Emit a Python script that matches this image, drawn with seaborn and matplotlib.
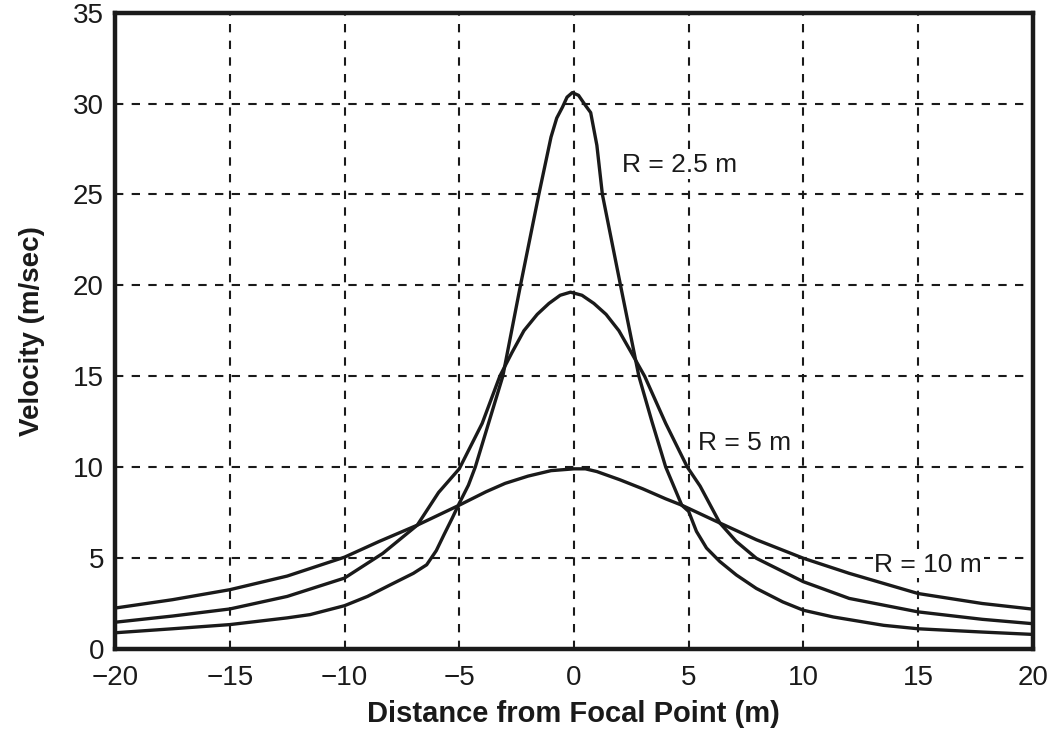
import matplotlib

matplotlib.use("Agg")
import matplotlib.pyplot as plt
import pandas as pd
import seaborn as sns

# Velocity profiles (distance in m, velocity in m/s)
x_r25 = [-20, -17.5, -15, -12.5, -11.5, -10, -9, -8, -7, -6.42, -6.0, -5.67,
         -5.3, -5, -4.6, -4.3, -3.7, -3.1, -2.33, -1.53, -1.0, -0.75, -0.5,
         -0.3, -0.07, 0.2, 0.5, 0.73, 1.0, 1.24, 2.03, 2.83, 3.4, 4.0, 4.7, 5.0,
         5.34, 5.78, 6.36, 7.08, 7.95, 9.1, 10, 11.3, 13.5, 15, 17.8, 20]
v_r25 = [0.88, 1.1, 1.33, 1.7, 1.88, 2.37, 2.88, 3.52, 4.15, 4.62, 5.4, 6.26,
         7.2, 8.0, 9.0, 10.0, 12.5, 15.0, 20.0, 25.0, 28.15, 29.2, 29.8,
         30.35, 30.6, 30.45, 29.9, 29.5, 27.7, 25.0, 20.0, 15.0, 12.5, 10.0,
         7.9, 7.56, 6.46, 5.54, 4.8, 4.06, 3.32, 2.58, 2.12, 1.75, 1.29, 1.1,
         0.92, 0.79]

x_r5 = [-20, -17.5, -15, -12.5, -10, -8.33, -6.83, -5.9, -5, -4, -3.23, -2.7,
        -2.18, -1.6, -1.09, -0.6, -0.15, 0.35, 0.87, 1.4, 1.96, 2.5, 3.08, 4,
        4.94, 5.5, 6.36, 7.08, 7.95, 10, 12, 15, 17.8, 20]
v_r5 = [1.46, 1.8, 2.19, 2.88, 3.89, 5.25, 6.8, 8.6, 9.9, 12.4, 15.0, 16.3,
        17.5, 18.4, 19.0, 19.45, 19.62, 19.45, 19.0, 18.4, 17.5, 16.3, 15.0,
        12.4, 10.0, 8.95, 6.92, 5.9, 4.98, 3.69, 2.77, 2.03, 1.62, 1.38]

x_r10 = [-20, -17.5, -15, -12.5, -10, -8.5, -6.83, -5, -3.83, -3, -2, -1, 0,
         0.5, 1, 2, 3, 4, 4.7, 6.36, 7.95, 10, 12, 15, 17.8, 20]
v_r10 = [2.24, 2.7, 3.25, 4.0, 5.04, 5.9, 6.8, 7.9, 8.64, 9.1, 9.5, 9.8, 9.9,
         9.9, 9.75, 9.3, 8.8, 8.25, 7.9, 6.92, 6.0, 4.98, 4.15, 3.04, 2.49,
         2.18]

curve_labels = ["R = 2.5 m", "R = 5 m", "R = 10 m"]
label_x = [2.1, 5.4, 13.1]
label_y = [26.6, 11.3, 4.6]

x_ticks = [-20, -15, -10, -5, 0, 5, 10, 15, 20]
x_tick_text = ["\u221220", "\u221215", "\u221210", "\u22125", "0", "5", "10",
               "15", "20"]
y_ticks = [0, 5, 10, 15, 20, 25, 30, 35]

INK = "#1a1a1a"

sns.set_theme(style="white")
plt.rcParams["font.family"] = ["Liberation Sans", "DejaVu Sans"]

fig = plt.figure(figsize=(10.56, 7.44), dpi=100)
ax = fig.add_axes([0.109, 0.128, 0.869, 0.855])

for xs, vs in [(x_r25, v_r25), (x_r5, v_r5), (x_r10, v_r10)]:
    df = pd.DataFrame({"x": xs, "v": vs})
    sns.lineplot(data=df, x="x", y="v", color=INK, linewidth=2.4, sort=False,
                 ax=ax, zorder=3, solid_joinstyle="round",
                 solid_capstyle="round")

for text, tx, ty in zip(curve_labels, label_x, label_y):
    ax.text(tx, ty, text, fontsize=19, color=INK, ha="left", va="center",
            zorder=4, bbox=dict(facecolor="white", edgecolor="none", pad=1.0))

ax.set_xlim(-20, 20)
ax.set_ylim(0, 35)
ax.set_xticks(x_ticks)
ax.set_yticks(y_ticks)
ax.set_xticklabels(x_tick_text)
ax.tick_params(axis="both", labelsize=20, colors=INK, length=0)
ax.tick_params(axis="x", pad=12)
ax.tick_params(axis="y", pad=8)

ax.grid(True, color=INK, linestyle=(0, (4, 4)), linewidth=1.5)
for spine in ax.spines.values():
    spine.set_linewidth(3.2)
    spine.set_color(INK)
    spine.set_zorder(5)

ax.set_xlabel("Distance from Focal Point (m)", fontsize=21, fontweight="bold",
              color=INK, labelpad=6)
ax.set_ylabel("Velocity (m/sec)", fontsize=20, fontweight="bold", color=INK,
              labelpad=20)

fig.savefig("out.png", dpi=100)
